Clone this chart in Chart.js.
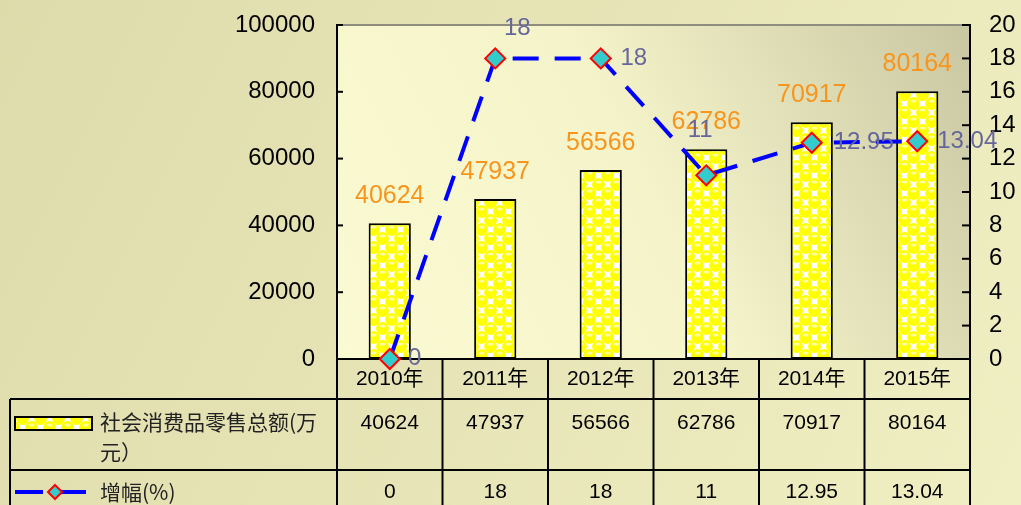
<!DOCTYPE html>
<html><head><meta charset="utf-8">
<script src="https://cdn.jsdelivr.net/npm/chart.js@4.4.1/dist/chart.umd.min.js"></script>
<style>html,body{margin:0;padding:0;background:#e4e1b3;overflow:hidden}#wrap{width:1021px;height:505px;position:relative}canvas{display:block}</style>
</head><body><div id="wrap"><canvas id="c" width="1021" height="505"></canvas></div>
<script>
const categories = ['2010年','2011年','2012年','2013年','2014年','2015年'];
const salesValues = [40624, 47937, 56566, 62786, 70917, 80164];
const growthValues = [0, 18, 18, 11, 12.95, 13.04];
const salesTicks = [0, 20000, 40000, 60000, 80000, 100000];
const growthTicks = [0, 2, 4, 6, 8, 10, 12, 14, 16, 18, 20];
const seriesNames = ['社会消费品零售总额(万元）', '增幅(%)'];

// style: label centre offsets relative to each growth point
const growthLabelOffsets = [[25,-1],[22,-30],[33,0],[-6,-45],[52,0],[50,0]];

const FONT = '"Liberation Sans", Arial, "Noto Sans CJK SC", sans-serif';
const canvas = document.getElementById('c');
const ctx = canvas.getContext('2d');

function makePattern(c){
  const S = 18;
  const t = document.createElement('canvas'); t.width = S; t.height = S;
  const g = t.getContext('2d');
  g.fillStyle = '#ffffff'; g.fillRect(0,0,S,S);
  const circ = (x,y)=>{
    g.fillStyle = '#ffff00'; g.beginPath(); g.arc(x,y,6.4,0,Math.PI*2); g.fill();
    g.fillStyle = '#ffffa0'; g.beginPath(); g.ellipse(x,y-2.6,3,1.5,0,0,Math.PI*2); g.fill();
  };
  for (let i=-1;i<=1;i++) for (let j=-1;j<=1;j++){ circ(4.5+S*i,4.5+S*j); circ(13.5+S*i,13.5+S*j); }
  return c.createPattern(t,'repeat');
}
const barPattern = makePattern(ctx);

function drawDiamond(c,x,y,r){
  c.beginPath(); c.moveTo(x,y-r); c.lineTo(x+r,y); c.lineTo(x,y+r); c.lineTo(x-r,y); c.closePath();
  c.fillStyle='#33cccc'; c.fill(); c.lineWidth=2; c.strokeStyle='#ff0000'; c.stroke();
}

const decor = {
  id:'decor',
  beforeDraw(chart){
    const {ctx:c, chartArea:a, width, height} = chart;
    c.save();
    let g = c.createLinearGradient(0,0,width,height);
    g.addColorStop(0,'#dedbab'); g.addColorStop(1,'#f0efc3');
    c.fillStyle=g; c.fillRect(0,0,width,height);
    g = c.createLinearGradient(a.left,a.bottom,a.right,a.top);
    g.addColorStop(0,'#fbfbd3'); g.addColorStop(0.5,'#f4f3c9'); g.addColorStop(1,'#c8c7a2');
    c.fillStyle=g; c.fillRect(a.left,a.top,a.right-a.left,a.bottom-a.top);
    c.restore();
  },
  beforeDatasetsDraw(chart){
    const {ctx:c, chartArea:a, scales} = chart;
    c.save();
    c.strokeStyle='#8e8d80'; c.lineWidth=2;
    c.beginPath(); c.moveTo(a.left,a.top); c.lineTo(a.right,a.top); c.stroke();
    c.strokeStyle='#000'; c.lineWidth=2;
    salesTicks.forEach(v=>{const y=scales.y.getPixelForValue(v); c.beginPath(); c.moveTo(a.left,y); c.lineTo(a.left+6,y); c.stroke();});
    growthTicks.forEach(v=>{const y=scales.y1.getPixelForValue(v); c.beginPath(); c.moveTo(a.right-8,y); c.lineTo(a.right,y); c.stroke();});
    const n = categories.length, w = (a.right-a.left)/n;
    const r1 = a.bottom+40, r2 = r1+71, bottom = chart.height+5, leftEdge = 10;
    c.beginPath();
    c.moveTo(a.left,a.bottom); c.lineTo(a.right,a.bottom);
    c.moveTo(leftEdge,r1); c.lineTo(a.right,r1);
    c.moveTo(leftEdge,r2); c.lineTo(a.right,r2);
    c.moveTo(leftEdge,r1); c.lineTo(leftEdge,bottom);
    for (let i=0;i<=n;i++){ const x=a.left+i*w; c.moveTo(x,a.bottom); c.lineTo(x,bottom); }
    c.stroke();
    c.restore();
  },
  afterDatasetsDraw(chart){
    const {ctx:c, chartArea:a, scales} = chart;
    c.save();
    const barMeta = chart.getDatasetMeta(1);
    c.font = '25px '+FONT; c.fillStyle='#f7951d'; c.textAlign='center'; c.textBaseline='middle';
    barMeta.data.forEach((b,i)=>{ c.fillText(String(salesValues[i]), b.x, b.y-27); });
    const lineMeta = chart.getDatasetMeta(0);
    c.font = '24px '+FONT; c.fillStyle='#66669a';
    lineMeta.data.forEach((p,i)=>{ const o=growthLabelOffsets[i]; c.fillText(String(growthValues[i]), p.x+o[0], p.y+o[1]); });
    const r1 = a.bottom+40, r2 = r1+71;
    c.fillStyle='#000'; c.font='21px '+FONT; c.textAlign='center';
    categories.forEach((cat,i)=>{
      const x = scales.x.getPixelForValue(i);
      c.fillText(cat, x, a.bottom+20);
      c.fillText(String(salesValues[i]), x, r1+24);
      c.fillText(String(growthValues[i]), x, r2+22);
    });
    c.textAlign='left';
    c.font = '21px "Noto Sans CJK SC", "Liberation Sans", sans-serif';
    c.fillStyle='#222';
    const maxW = a.left-8-100;
    let lines=[], cur='';
    for (const ch of seriesNames[0]){ if (c.measureText(cur+ch).width>maxW){ lines.push(cur); cur=ch; } else cur+=ch; }
    if (cur) lines.push(cur);
    lines.forEach((ln,k)=>c.fillText(ln,100,r1+23+k*30));
    c.fillText(seriesNames[1],100,r2+22);
    c.fillStyle=barPattern; c.fillRect(15,r1+18,77,13);
    c.strokeStyle='#000'; c.lineWidth=2; c.strokeRect(15,r1+18,77,13);
    c.strokeStyle='#0000ff'; c.lineWidth=4;
    c.beginPath(); c.moveTo(15,r2+22); c.lineTo(43,r2+22); c.moveTo(55,r2+22); c.lineTo(86,r2+22); c.stroke();
    drawDiamond(c,55,r2+22,7);
    c.restore();
  }
};

function fitAxis(width){
  return s => { s.width = width; s.paddingTop = 0; s.paddingBottom = 0; };
}

const chart = new Chart(ctx, {
  type:'bar',
  data:{
    labels: categories,
    datasets:[
      {type:'line', label:seriesNames[1], data:growthValues, yAxisID:'y1', order:0,
       borderColor:'#0000ff', borderWidth:4, borderDash:[26,16], tension:0, fill:false, clip:false,
       pointStyle:'rectRot', pointRadius:10, pointBackgroundColor:'#33cccc', pointBorderColor:'#ff0000', pointBorderWidth:2},
      {type:'bar', label:seriesNames[0], data:salesValues, yAxisID:'y', order:1,
       backgroundColor:barPattern, borderColor:'#000', borderWidth:2, borderSkipped:false,
       barPercentage:0.4, categoryPercentage:1}
    ]
  },
  options:{
    responsive:false, animation:false, devicePixelRatio:1,
    layout:{padding:{top:25,bottom:146,left:0,right:0}},
    plugins:{legend:{display:false}, tooltip:{enabled:false}},
    scales:{
      x:{type:'category', display:false, offset:true},
      y:{position:'left', min:0, max:100000,
         afterBuildTicks:s=>{ s.ticks = salesTicks.map(v=>({value:v})); },
         afterFit:fitAxis(337),
         grid:{display:false, drawTicks:false},
         border:{display:true, color:'#000', width:2},
         ticks:{padding:22, color:'#000', font:{family:FONT, size:24}, callback:v=>String(v)}},
      y1:{position:'right', min:0, max:20,
         afterBuildTicks:s=>{ s.ticks = growthTicks.map(v=>({value:v})); },
         afterFit:fitAxis(51),
         grid:{display:false, drawTicks:false},
         border:{display:true, color:'#000', width:2},
         ticks:{padding:19, color:'#000', font:{family:FONT, size:24}, callback:v=>String(v)}}
    }
  },
  plugins:[decor]
});
</script></body></html>
